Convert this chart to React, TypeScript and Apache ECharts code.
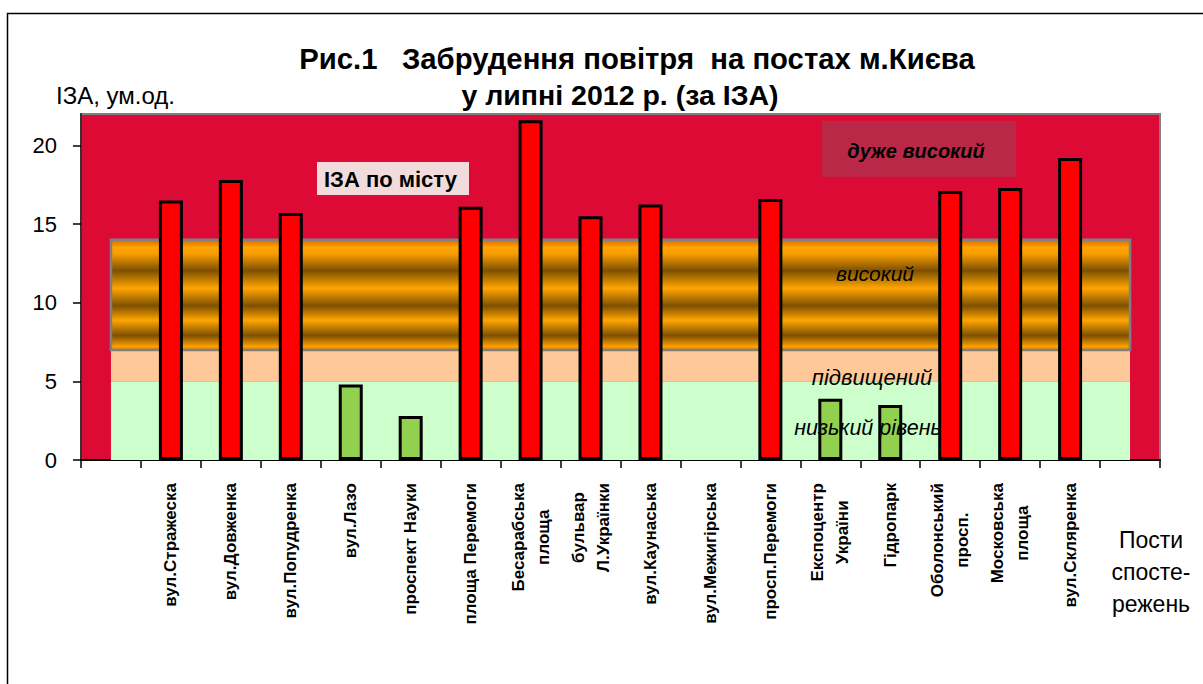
import React, { useEffect, useRef } from "react";
import * as echarts from "echarts";

// ---- data ----
const stations: string[] = [
  "вул.Стражеска",
  "вул.Довженка",
  "вул.Попудренка",
  "вул.Лазо",
  "проспект Науки",
  "площа Перемоги",
  "Бесарабська\nплоща",
  "бульвар\nЛ.Українки",
  "вул.Каунаська",
  "вул.Межигірська",
  "просп.Перемоги",
  "Експоцентр\nУкраїни",
  "Гідропарк",
  "Оболонський\nпросп.",
  "Московська\nплоща",
  "вул.Скляренка",
];
const iza: (number | null)[] = [
  16.5, 17.8, 15.7, 4.8, 2.8, 16.1, 21.6, 15.5, 16.25, null, 16.6, 3.9, 3.5, 17.1, 17.3, 19.2,
];
const yTicks: number[] = [0, 5, 10, 15, 20];
const yMax = 22;
const lowBand: [number, number] = [0, 5];
const elevatedBand: [number, number] = [5, 7];
const highBand: [number, number] = [7, 14];

const titleLine1 = "Рис.1   Забрудення повітря  на постах м.Києва";
const titleLine2 = "у липні 2012 р. (за ІЗА)";
const yName = "ІЗА, ум.од.";
const xName = "Пости\nспосте-\nрежень";
const cityLabel = "ІЗА по місту";
const levelLabels = {
  veryHigh: "дуже високий",
  high: "високий",
  elevated: "підвищений",
  low: "низький рівень",
};

const FONT = '"Liberation Sans", Arial, sans-serif';

export default function App() {
  const ref = useRef<HTMLDivElement>(null);
  useEffect(() => {
    document.body.style.margin = "0";
    const chart = echarts.init(ref.current!, undefined, { renderer: "svg" });
    const categories = ["", ...stations, " "];
    const lastIdx = categories.length - 1;
    const barData = [
      null,
      ...iza.map((v) =>
        v == null
          ? null
          : { value: v, itemStyle: { color: v < lowBand[1] ? "#92d050" : "#ff0000" } }
      ),
      null,
    ];
    const orange = new echarts.graphic.LinearGradient(0, 0, 0, 1, [
      { offset: 0, color: "#e06800" },
      { offset: 0.07, color: "#ffa400" },
      { offset: 0.13, color: "#f59c00" },
      { offset: 0.28, color: "#7e5000" },
      { offset: 0.44, color: "#ffa500" },
      { offset: 0.6, color: "#7e5000" },
      { offset: 0.73, color: "#ffa500" },
      { offset: 0.87, color: "#7e5000" },
      { offset: 0.97, color: "#ffa000" },
      { offset: 1, color: "#e08000" },
    ]);
    const textEl = (x: number, y: number, text: string, font: string, align = "center", extra: any = {}) => ({
      type: "text",
      x,
      y,
      z: 100,
      style: { text, font, fill: "#000", textAlign: align, textVerticalAlign: "middle", ...extra },
    });
    chart.setOption({
      animation: false,
      grid: {
        left: 81,
        right: 43,
        top: 114,
        bottom: 224,
        show: true,
        backgroundColor: "#dc0a34",
        borderColor: "#808080",
        borderWidth: 2,
      },
      xAxis: [
        {
          type: "category",
          data: categories,
          boundaryGap: true,
          axisLine: { onZero: false, lineStyle: { color: "#000", width: 2 } },
          axisTick: { show: true, interval: 0, length: 8, lineStyle: { color: "#000", width: 1.5 } },
          axisLabel: {
            interval: 0,
            rotate: 90,
            margin: 23,
            color: "#000",
            fontFamily: FONT,
            fontSize: 17,
            fontWeight: "bold",
            lineHeight: 25,
            formatter: (v: string) =>
              v.trim() === "" ? "" : v.split("\n").map((s) => `{c|${s}}`).join("\n"),
            rich: {
              c: { align: "center", fontFamily: FONT, fontSize: 17, fontWeight: "bold", color: "#000", lineHeight: 25 },
            },
          },
          splitLine: { show: false },
        },
        {
          type: "value",
          show: false,
          min: -0.5,
          max: lastIdx + 0.5,
          axisLine: { show: false, onZero: false },
          splitLine: { show: false },
        },
      ],
      yAxis: {
        type: "value",
        min: 0,
        max: yMax,
        interval: 5,
        axisLine: { show: true, onZero: false, lineStyle: { color: "#333", width: 2 } },
        axisTick: { show: true, length: 8, customValues: yTicks, lineStyle: { color: "#000", width: 1.5 } },
        axisLabel: { customValues: yTicks, margin: 24, fontSize: 22, color: "#000", fontFamily: FONT },
        splitLine: { show: false },
      },
      series: [
        {
          type: "line",
          xAxisIndex: 1,
          data: [],
          symbol: "none",
          z: 1,
          markArea: {
            silent: true,
            data: [
              [
                { xAxis: 0, yAxis: lowBand[0], itemStyle: { color: "#ccffcc" } },
                { xAxis: lastIdx, yAxis: lowBand[1] },
              ],
              [
                { xAxis: 0, yAxis: elevatedBand[0], itemStyle: { color: "#ffc898" } },
                { xAxis: lastIdx, yAxis: elevatedBand[1] },
              ],
              [
                {
                  xAxis: 0,
                  yAxis: highBand[0],
                  itemStyle: { color: orange, borderColor: "#808080", borderWidth: 2.5 },
                },
                { xAxis: lastIdx, yAxis: highBand[1] },
              ],
            ],
          },
        },
        {
          type: "bar",
          data: barData,
          barWidth: 24,
          z: 5,
          itemStyle: { borderColor: "#000", borderWidth: 3 },
        },
      ],
      graphic: [
        {
          type: "rect",
          z: 100,
          shape: { x: 7.5, y: 13.5, width: 1300, height: 800 },
          style: { fill: "none", stroke: "#000", lineWidth: 1.5 },
        },
        textEl(637, 58, titleLine1, `bold 29.3px ${FONT}`),
        textEl(620, 95, titleLine2, `bold 28.5px ${FONT}`),
        textEl(56, 95, yName, `24px ${FONT}`, "left"),
        {
          type: "rect",
          z: 99,
          shape: { x: 317, y: 162, width: 152, height: 33 },
          style: { fill: "#f2dcdb" },
        },
        textEl(324, 179, cityLabel, `bold 22px ${FONT}`, "left"),
        {
          type: "rect",
          z: 99,
          shape: { x: 822, y: 121, width: 194, height: 56 },
          style: { fill: "rgba(120,100,110,0.35)" },
        },
        textEl(916, 151, levelLabels.veryHigh, `italic bold 20px ${FONT}`),
        textEl(875, 273, levelLabels.high, `italic 21px ${FONT}`),
        textEl(872, 377, levelLabels.elevated, `italic 22px ${FONT}`),
        textEl(868, 428, levelLabels.low, `italic 21.5px ${FONT}`),
        textEl(1151, 572, xName, `23px ${FONT}`, "center", { lineHeight: 32 }),
      ],
    });
    return () => chart.dispose();
  }, []);
  return <div ref={ref} style={{ width: 1203, height: 684 }} />;
}
